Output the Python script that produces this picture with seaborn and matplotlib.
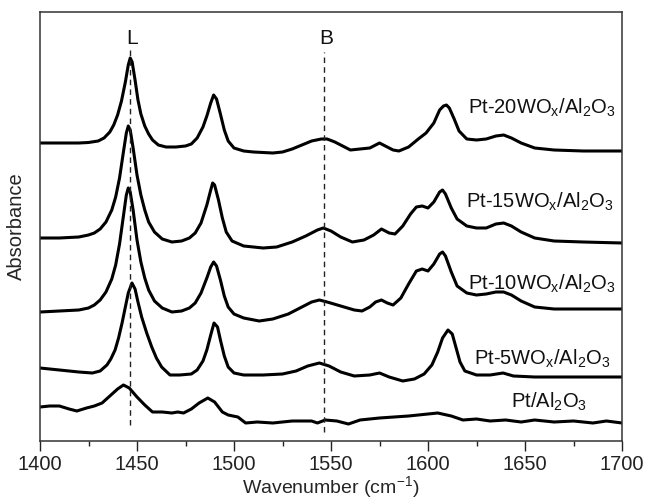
import numpy as np
import pandas as pd
import matplotlib
matplotlib.use("Agg")
import matplotlib.pyplot as plt
import seaborn as sns

# ---- data ----
wn_20 = [1400,1410,1420,1425,1430,1433,1436,1438,1440,1442,1444,1445.5,1446.5,1447.5,1449,1450.5,1452,1454,1456,1458,
         1461,1465,1470,1475,1478,1481,1484,1486,1488,1489.5,1491,1493,1495,1497,1500,1505,1510,1520,1525,1530,
         1535,1540,1545,1548,1552,1556,1560,1565,1570,1575,1578,1582,1585,1590,1595,1599,1603,1606,1608,1609.5,
         1611,1613.5,1616,1620,1625,1630,1635,1639,1643,1648,1655,1665,1680,1700]
abs_20 = [2.98,2.98,2.98,2.985,3.00,3.03,3.09,3.16,3.26,3.40,3.59,3.76,3.83,3.79,3.61,3.41,3.27,3.15,3.07,3.01,
          2.96,2.94,2.94,2.95,2.97,3.03,3.14,3.25,3.38,3.46,3.42,3.27,3.11,3.00,2.93,2.90,2.89,2.88,2.89,2.92,
          2.96,3.00,3.02,3.02,2.99,2.95,2.91,2.92,2.93,2.98,2.95,2.91,2.90,2.94,3.02,3.08,3.18,3.31,3.35,3.36,
          3.33,3.22,3.10,3.02,3.01,3.02,3.05,3.06,3.03,2.98,2.93,2.91,2.90,2.90]

wn_15 = [1400,1410,1420,1425,1428,1431,1434,1437,1439,1441,1443,1444.5,1445.5,1446.5,1448,1450,1452,1454,1456,1459,
         1463,1468,1473,1477,1480,1483,1486,1488,1489,1490,1492,1494,1496,1499,1505,1515,1522,1530,1537,1543,
         1546,1550,1555,1561,1567,1572,1576,1580,1583,1587,1591,1594,1597,1600,1603,1606,1607.5,1609,1612,1615,
         1620,1625,1630,1635,1639,1643,1648,1655,1665,1680,1700]
abs_15 = [2.03,2.03,2.04,2.06,2.08,2.12,2.19,2.31,2.44,2.63,2.89,3.08,3.15,3.11,2.93,2.66,2.46,2.31,2.19,2.09,
          2.02,1.99,2.00,2.03,2.08,2.18,2.36,2.51,2.58,2.56,2.41,2.23,2.09,2.00,1.95,1.93,1.94,1.99,2.05,2.11,
          2.13,2.10,2.04,1.99,2.01,2.06,2.12,2.08,2.07,2.15,2.27,2.34,2.35,2.33,2.39,2.49,2.51,2.47,2.33,2.22,
          2.15,2.13,2.13,2.17,2.18,2.15,2.09,2.03,2.00,1.99,1.98]

wn_10 = [1400,1410,1420,1425,1428,1431,1434,1437,1439,1441,1443,1444.5,1445.5,1446.5,1448,1450,1452,1454,1456,1459,
         1463,1468,1473,1477,1480,1483,1486,1488,1489.5,1491,1493,1495,1497,1500,1505,1513,1520,1528,1535,1540,
         1544,1548,1555,1562,1566,1570,1573,1576,1579,1582,1586,1590,1594,1597,1600,1603,1606,1607.5,1609,1612,
         1615,1620,1625,1630,1635,1639,1643,1648,1655,1665,1680,1700]
abs_10 = [1.29,1.30,1.31,1.33,1.36,1.41,1.49,1.62,1.76,1.97,2.25,2.46,2.53,2.49,2.31,2.01,1.79,1.63,1.51,1.40,
          1.33,1.29,1.30,1.33,1.38,1.48,1.63,1.74,1.79,1.75,1.61,1.45,1.34,1.27,1.23,1.20,1.22,1.27,1.34,1.39,
          1.41,1.39,1.35,1.31,1.30,1.34,1.39,1.41,1.38,1.36,1.43,1.57,1.70,1.72,1.70,1.77,1.87,1.89,1.85,1.69,
          1.55,1.48,1.46,1.47,1.49,1.49,1.46,1.40,1.34,1.32,1.32,1.32]

wn_5 = [1400,1410,1420,1427,1431,1434.5,1436.5,1438.7,1440.5,1442.3,1444,1445.5,1447.4,1449,1450.5,1452.4,1455,1457.6,1460,1462.7,
        1467,1472,1478,1481,1484,1486,1488,1489.7,1491.5,1493,1495,1497,1500,1505,1515,1525,1532,1538,1544,1549,
        1555,1562,1570,1575,1580,1587,1593,1598,1602,1605,1607.5,1610.3,1612.5,1614.5,1616.5,1619,1625,1632,1638.7,1644,
        1655,1700]
abs_5 = [0.73,0.71,0.69,0.68,0.70,0.76,0.82,0.91,1.03,1.18,1.34,1.48,1.58,1.52,1.39,1.24,1.08,0.94,0.83,0.74,
         0.66,0.66,0.67,0.71,0.80,0.91,1.06,1.18,1.14,1.01,0.85,0.74,0.68,0.66,0.66,0.67,0.70,0.75,0.78,0.75,
         0.69,0.65,0.66,0.68,0.64,0.60,0.62,0.67,0.76,0.89,1.03,1.11,1.07,0.93,0.79,0.70,0.66,0.66,0.68,0.65,
         0.64,0.64]

wn_0 = [1400,1405,1410,1415,1419,1424,1428,1432,1436,1440,1443,1446,1450,1454,1458,1463,1468,1471,1474,1478,
        1482,1486.5,1490,1494,1497,1502,1506,1512,1520,1530,1540,1543,1547,1553,1559,1565,1575,1590,1600,1605,
        1612,1618,1625,1632,1640,1648,1655,1665,1675,1685,1692,1700]
abs_0 = [0.34,0.35,0.35,0.32,0.30,0.33,0.35,0.38,0.45,0.52,0.56,0.53,0.44,0.36,0.29,0.29,0.28,0.29,0.28,0.32,
         0.38,0.43,0.39,0.29,0.26,0.24,0.18,0.19,0.18,0.20,0.20,0.18,0.21,0.20,0.17,0.21,0.23,0.25,0.27,0.28,
         0.25,0.21,0.22,0.20,0.21,0.19,0.21,0.19,0.20,0.18,0.20,0.18]

sample_labels = ["Pt-20WO$_x$/Al$_2$O$_3$", "Pt-15WO$_x$/Al$_2$O$_3$", "Pt-10WO$_x$/Al$_2$O$_3$",
                 "Pt-5WO$_x$/Al$_2$O$_3$", "Pt/Al$_2$O$_3$"]
label_wn = [1696.5, 1695.5, 1696.5, 1694.0, 1682.0]
label_abs = [3.27, 2.33, 1.51, 0.76, 0.33]

band_names = ["L", "B"]
band_wn = [1446.5, 1546.5]
band_lo = [0.16, 0.09]
band_hi = [3.94, 3.89]

x_ticks = [1400, 1450, 1500, 1550, 1600, 1650, 1700]

# ---- style ----
sns.set_style("ticks")
plt.rcParams["font.family"] = ["Liberation Sans", "DejaVu Sans"]
plt.rcParams["mathtext.default"] = "regular"
plt.rcParams["mathtext.fontset"] = "custom"
plt.rcParams["mathtext.rm"] = "Liberation Sans"

fig = plt.figure(figsize=(6.46, 5.0), dpi=100)
ax = fig.add_axes([40/646, 59/500, 582/646, 429/500])

series = [(wn_20, abs_20), (wn_15, abs_15), (wn_10, abs_10), (wn_5, abs_5), (wn_0, abs_0)]
for (w, a), lab in zip(series, sample_labels):
    df = pd.DataFrame({"wn": w, "A": a})
    sns.lineplot(data=df, x="wn", y="A", ax=ax, color="black", linewidth=2.2,
                 estimator=None, sort=False)

for lab, xw, ya in zip(sample_labels, label_wn, label_abs):
    ax.text(xw, ya, lab, ha="right", va="baseline", fontsize=14.5, color="#111111")

for name, xw, lo, hi in zip(band_names, band_wn, band_lo, band_hi):
    ax.vlines(xw, lo, hi, colors="#222222", linestyles=(0, (4, 3)), linewidth=1.0)
    ax.text(xw + 1.0, 3.97, name, ha="center", va="baseline", fontsize=15, color="#111111")

ax.set_xlim(1400, 1700)
ax.set_ylim(0, 4.29)
ax.set_xticks(x_ticks)
ax.set_xticks(np.arange(1425, 1700, 50), minor=True)
ax.set_yticks([])
ax.tick_params(axis="x", which="major", direction="out", length=7, width=1.0,
               labelsize=14.5, colors="#222222", pad=3)
ax.tick_params(axis="x", which="minor", direction="out", length=3.5, width=1.0, colors="#222222")
for s in ax.spines.values():
    s.set_visible(True)
    s.set_linewidth(1.1)
    s.set_color("#333333")

ax.set_xlabel("Wavenumber (cm$^{-1}$)", fontsize=14, labelpad=0)
ax.set_ylabel("Absorbance", fontsize=14.5, labelpad=10)

fig.savefig("out.png", dpi=100)
